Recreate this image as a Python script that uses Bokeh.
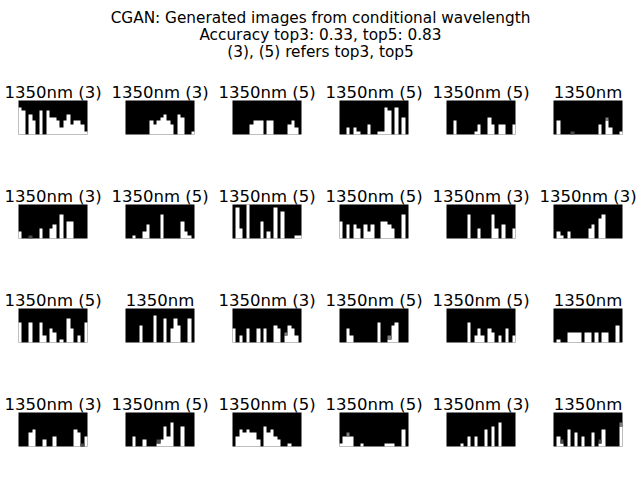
import math
from bokeh.plotting import figure
from bokeh.models import Range1d, ColumnDataSource
from bokeh.core.properties import value
from bokeh.embed import file_html
from bokeh.resources import INLINE

suptitle = ["CGAN: Generated images from conditional wavelength",
            "Accuracy top3: 0.33, top5: 0.83",
            "(3), (5) refers top3, top5"]

row1_titles = ["1350nm (3)", "1350nm (3)", "1350nm (5)", "1350nm (5)", "1350nm (5)", "1350nm"]
row2_titles = ["1350nm (3)", "1350nm (5)", "1350nm (5)", "1350nm (5)", "1350nm (3)", "1350nm (3)"]
row3_titles = ["1350nm (5)", "1350nm", "1350nm (3)", "1350nm (5)", "1350nm (5)", "1350nm"]
row4_titles = ["1350nm (3)", "1350nm (5)", "1350nm (5)", "1350nm (5)", "1350nm (3)", "1350nm"]

# white pixels per column (from bottom) of each 20x10 generated image; fraction = grey top pixel
row1_images = [
    [8, 7, 0, 6, 4, 0, 7, 0, 7, 5, 5, 4, 2, 4, 6, 3, 4, 4, 3, 1],
    [0, 0, 0, 0, 0, 0, 0, 4, 3, 4, 5, 6, 4, 3, 0, 6, 5, 0, 0, 1],
    [0, 0, 0, 0, 0, 3, 4, 4, 4, 0, 4, 4, 0, 0, 0, 0, 3, 4, 2, 0],
    [0, 0, 2, 0, 2, 1, 0, 0, 3, 0, 0, 1, 1, 8, 7, 0, 8, 0, 5, 0],
    [0, 0, 4, 0, 0, 0, 0, 0, 1, 3, 0, 0, 5, 3, 0, 3, 3, 0, 0, 3],
    [0, 4, 0, 0, 0, 0.3, 0, 0, 0, 0, 0, 0, 0, 3, 0, 4.5, 2, 0, 0, 1],
]
row2_images = [
    [2, 0, 0, 0.3, 0, 0, 3, 0, 0, 3, 4, 0, 7, 0, 5, 5, 0, 0, 0, 0],
    [0, 0, 1, 0, 0, 2, 4, 0, 0, 0, 7, 0, 0, 0, 0, 0, 5, 2, 1, 0],
    [0, 9, 3, 0, 10, 0, 0, 0, 5, 0, 2, 0, 9, 0, 8, 0, 0, 0, 1, 1],
    [5, 0, 4, 0, 4, 3, 0, 4, 2, 4, 0, 0, 5, 5, 4, 3, 0, 0, 7, 0],
    [0, 0, 0, 0, 0, 0, 7, 0, 0, 3, 0, 0, 0, 7, 3, 0, 4, 0, 0, 3],
    [0, 2, 1, 0, 2, 0, 0, 0, 0, 0, 3, 4, 0, 6, 7, 0, 0, 0, 0, 0],
]
row3_images = [
    [6, 0, 0, 6, 0, 0, 6, 2, 0, 4, 3, 0, 1, 0, 7, 4, 0, 2, 0, 6],
    [0, 0, 0, 0, 5, 0, 0, 0, 8, 0, 0, 7, 0, 4, 7, 5, 0, 0, 7, 0],
    [4, 0, 2, 0, 4, 0, 0, 4, 0, 4, 0, 0, 5, 4, 0, 2.5, 5, 4, 2, 0],
    [0, 0, 4, 2, 0, 0, 0, 0, 0, 0, 0, 6, 0, 0, 1.5, 5, 6, 0, 0, 0],
    [0, 0, 0, 0, 0, 0, 6, 0, 2, 4, 2, 0, 4, 3, 0, 2, 0, 4, 0, 2],
    [0, 1, 0, 0, 3, 3, 3, 3, 0, 3, 3, 0, 3, 0, 3, 3, 0, 0, 5, 0],
]
row4_images = [
    [0, 0, 0, 4, 5, 0, 0, 2, 0, 0, 3, 0, 0, 0, 0, 0, 5, 4, 0.3, 3],
    [0, 0, 3, 0, 0, 2, 0, 0, 0, 1.3, 2, 6, 3, 7, 0, 0, 6, 0, 0, 0],
    [0, 3, 5, 4, 5, 4, 4, 2, 0, 6, 4, 5, 3, 2, 0, 0, 1, 0, 0, 0],
    [1, 3, 3.5, 3, 0, 0, 1, 0, 0, 0, 0, 0, 0, 1, 1, 1, 0, 0, 5, 0],
    [0, 0, 0, 0, 1, 0, 3, 0, 3, 0, 0, 5, 0, 6, 0, 7, 0, 0, 0, 0],
    [0, 3, 1.3, 0, 5, 0, 4, 0, 3, 0, 0, 4, 0, 1.3, 5, 0, 0, 0, 0, 6.5],
]

titles = [row1_titles, row2_titles, row3_titles, row4_titles]
images = [row1_images, row2_images, row3_images, row4_images]

# layout in page pixels, y measured up from the bottom
W, H = 640, 480
NPX, NPY = 20, 10
img_w, img_h = 69, 34
x0, dx = 18, 107
y0, dy = 346, 104
cw, ch = img_w / NPX, img_h / NPY

bg = dict(left=[], right=[], bottom=[], top=[])
white = dict(xs=[], ys=[])
grey = dict(left=[], right=[], bottom=[], top=[], color=[])
lab = dict(x=[], y=[], text=[])

for r in range(4):
    for c in range(6):
        left0 = x0 + c * dx
        bot0 = y0 - r * dy
        bg["left"].append(left0)
        bg["right"].append(left0 + img_w)
        bg["bottom"].append(bot0)
        bg["top"].append(bot0 + img_h)
        lab["x"].append(left0 + img_w / 2)
        lab["y"].append(bot0 + img_h + 7.7)
        lab["text"].append(titles[r][c])

        cols = images[r][c]
        xl = [round(left0 + j * cw) for j in range(NPX + 1)]
        full = [int(math.floor(h)) for h in cols]
        # white pixels: one skyline outline per run of neighbouring lit columns
        j = 0
        while j < NPX:
            if full[j] == 0:
                j += 1
                continue
            xs, ys = [xl[j]], [bot0]
            while j < NPX and full[j] > 0:
                t = round(bot0 + full[j] * ch)
                xs += [xl[j], xl[j + 1]]
                ys += [t, t]
                j += 1
            xs.append(xl[j])
            ys.append(bot0)
            white["xs"].append(xs)
            white["ys"].append(ys)
        for k, h in enumerate(cols):
            frac = h - full[k]
            if frac > 0:
                g = int(round(frac * 255))
                grey["left"].append(xl[k])
                grey["right"].append(xl[k + 1])
                grey["bottom"].append(round(bot0 + full[k] * ch))
                grey["top"].append(round(bot0 + (full[k] + 1) * ch))
                grey["color"].append("#%02x%02x%02x" % (g, g, g))

p = figure(width=W, height=H, x_range=Range1d(0, W), y_range=Range1d(0, H),
           output_backend="svg", toolbar_location=None, min_border=0)
p.axis.visible = False
p.grid.visible = False
p.outline_line_color = None
p.background_fill_color = "white"

p.quad(source=ColumnDataSource(bg), left="left", right="right", bottom="bottom", top="top",
       fill_color="black", line_color=None)
p.patches(source=ColumnDataSource(white), xs="xs", ys="ys",
          fill_color="white", line_color=None)
p.quad(source=ColumnDataSource(grey), left="left", right="right", bottom="bottom", top="top",
       fill_color="color", line_color=None)

p.text(source=ColumnDataSource(lab), x="x", y="y", text="text", text_align="center",
       text_baseline="alphabetic", text_font=value("DejaVu Sans"), text_font_size="16.5px",
       text_color="black")

p.text(x=[W / 2] * 3, y=[463, 445.7, 428.5], text=suptitle, text_align="center",
       text_baseline="alphabetic", text_font=value("DejaVu Sans"), text_font_size="15.3px",
       text_color="black")

open("out.html", "w").write(file_html(p, INLINE))
